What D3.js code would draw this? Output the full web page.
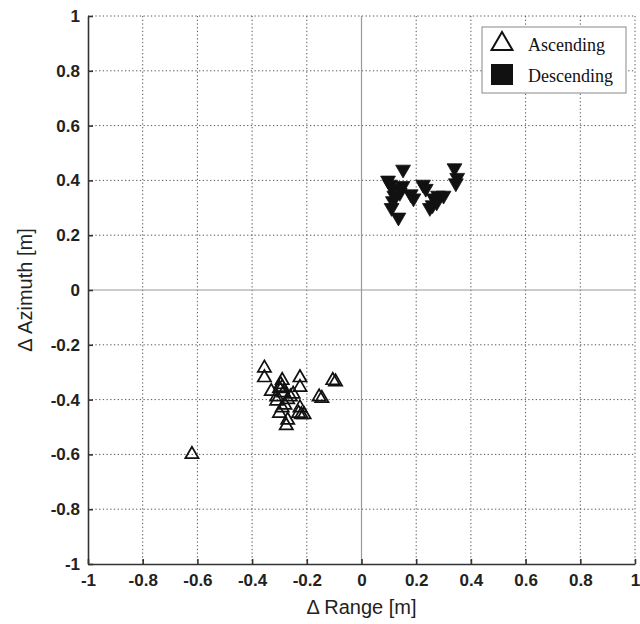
<!DOCTYPE html>
<html>
<head>
<meta charset="utf-8">
<script src="https://cdn.jsdelivr.net/npm/d3@7"></script>
<style>
  html, body { margin: 0; padding: 0; background: #fff; }
  svg { display: block; }
</style>
</head>
<body>
<svg id="chart" width="640" height="624"></svg>
<script>
// Displacement differences, metres: [Δ range, Δ azimuth]
const ascending = [
  [-0.355, -0.285], [-0.355, -0.32], [-0.29, -0.33], [-0.295, -0.345],
  [-0.29, -0.355], [-0.33, -0.37], [-0.285, -0.375], [-0.26, -0.39],
  [-0.31, -0.405], [-0.29, -0.43], [-0.30, -0.45], [-0.27, -0.475],
  [-0.275, -0.495], [-0.225, -0.32], [-0.225, -0.355], [-0.225, -0.43],
  [-0.22, -0.455], [-0.21, -0.455], [-0.23, -0.45], [-0.155, -0.39],
  [-0.145, -0.395], [-0.105, -0.33], [-0.095, -0.335], [-0.62, -0.60],
  [-0.27, -0.40], [-0.28, -0.42], [-0.31, -0.39], [-0.25, -0.38],
  [-0.30, -0.36]
];
const descending = [
  [0.152, 0.44], [0.097, 0.40], [0.105, 0.385], [0.115, 0.37],
  [0.13, 0.36], [0.12, 0.345], [0.115, 0.325], [0.11, 0.30],
  [0.14, 0.355], [0.135, 0.265], [0.19, 0.335], [0.18, 0.35],
  [0.225, 0.385], [0.235, 0.37], [0.265, 0.335], [0.28, 0.345],
  [0.26, 0.31], [0.25, 0.30], [0.275, 0.32], [0.30, 0.345],
  [0.34, 0.445], [0.35, 0.41], [0.345, 0.39], [0.15, 0.38]
];
const tickValues = [-1, -0.8, -0.6, -0.4, -0.2, 0, 0.2, 0.4, 0.6, 0.8, 1];
const tickLabels = ["-1", "-0.8", "-0.6", "-0.4", "-0.2", "0", "0.2", "0.4", "0.6", "0.8", "1"];
const legendLabels = ["Ascending", "Descending"];
const xTitle = "\u0394 Range [m]";
const yTitle = "\u0394 Azimuth [m]";

const svg = d3.select("#chart");
const plotLeft = 88, plotRight = 635, plotTop = 16, plotBottom = 564;

const x = d3.scaleLinear().domain([-1, 1]).range([plotLeft, plotRight]);
const y = d3.scaleLinear().domain([-1, 1]).range([plotBottom, plotTop]);

// dotted grid
const gridVals = tickValues.filter(v => v !== 0 && v !== -1);
const grid = svg.append("g");
grid.selectAll("line.gx").data(gridVals).join("line").attr("class", "gx")
  .attr("x1", d => x(d)).attr("x2", d => x(d)).attr("y1", plotTop).attr("y2", plotBottom)
  .attr("stroke", "#555").attr("stroke-width", 1).attr("stroke-dasharray", "1.3,2.4");
grid.selectAll("line.gy").data(gridVals).join("line").attr("class", "gy")
  .attr("y1", d => y(d)).attr("y2", d => y(d)).attr("x1", plotLeft).attr("x2", plotRight)
  .attr("stroke", "#555").attr("stroke-width", 1).attr("stroke-dasharray", "1.3,2.4");

// zero lines
svg.append("line").attr("x1", x(0)).attr("x2", x(0)).attr("y1", plotTop).attr("y2", plotBottom)
  .attr("stroke", "#999").attr("stroke-width", 1.2);
svg.append("line").attr("x1", plotLeft).attr("x2", plotRight).attr("y1", y(0)).attr("y2", y(0))
  .attr("stroke", "#999").attr("stroke-width", 1.2);

// axes
const fmt = d => tickLabels[tickValues.indexOf(d)];
const xAxis = svg.append("g").attr("transform", `translate(0,${plotBottom})`)
  .call(d3.axisBottom(x).tickValues(tickValues).tickFormat(fmt).tickSizeInner(-5).tickSizeOuter(0).tickPadding(10));
const yAxis = svg.append("g").attr("transform", `translate(${plotLeft},0)`)
  .call(d3.axisLeft(y).tickValues(tickValues).tickFormat(fmt).tickSizeInner(-5).tickSizeOuter(0).tickPadding(8));
[xAxis, yAxis].forEach(a => {
  a.select(".domain").attr("stroke", "#333").attr("stroke-width", 1.6);
  a.selectAll(".tick line").attr("stroke", "#333").attr("stroke-width", 1.6);
  a.selectAll(".tick text").attr("fill", "#222")
    .style("font-family", "'Liberation Sans', Arial, sans-serif")
    .style("font-size", "17px").style("font-weight", "bold");
});

// axis titles
svg.append("text").attr("x", x(0)).attr("y", 614).attr("text-anchor", "middle")
  .style("font-family", "'Liberation Sans', Arial, sans-serif").style("font-size", "20px")
  .attr("fill", "#222").text(xTitle);
svg.append("text").attr("transform", `translate(32,${y(0)}) rotate(-90)`).attr("text-anchor", "middle")
  .style("font-family", "'Liberation Sans', Arial, sans-serif").style("font-size", "20px")
  .attr("fill", "#222").text(yTitle);

// markers
const upTri = d3.symbol().type(d3.symbolTriangle).size(76);
const downTri = d3.symbol().type(d3.symbolTriangle).size(95);

svg.append("g").selectAll("path").data(ascending).join("path")
  .attr("d", upTri)
  .attr("transform", d => `translate(${x(d[0])},${y(d[1])})`)
  .attr("fill", "none").attr("stroke", "#111").attr("stroke-width", 1.7);

svg.append("g").selectAll("path").data(descending).join("path")
  .attr("d", downTri)
  .attr("transform", d => `translate(${x(d[0])},${y(d[1])}) rotate(180)`)
  .attr("fill", "#111").attr("stroke", "#111").attr("stroke-width", 0.8);

// legend
const lg = svg.append("g");
lg.append("rect").attr("x", 482).attr("y", 27).attr("width", 144).attr("height", 66)
  .attr("fill", "#fff").attr("stroke", "#888").attr("stroke-width", 1);
lg.append("path").attr("d", d3.symbol().type(d3.symbolTriangle).size(190)())
  .attr("transform", "translate(502,44)")
  .attr("fill", "none").attr("stroke", "#111").attr("stroke-width", 2);
lg.append("rect").attr("x", 491).attr("y", 64).attr("width", 22).attr("height", 21).attr("fill", "#111");
lg.selectAll("text").data(legendLabels).join("text")
  .attr("x", 528).attr("y", (d, i) => 51 + i * 31)
  .style("font-family", "'Liberation Serif', 'Times New Roman', serif").style("font-size", "18px")
  .attr("fill", "#111").text(d => d);
</script>
</body>
</html>
